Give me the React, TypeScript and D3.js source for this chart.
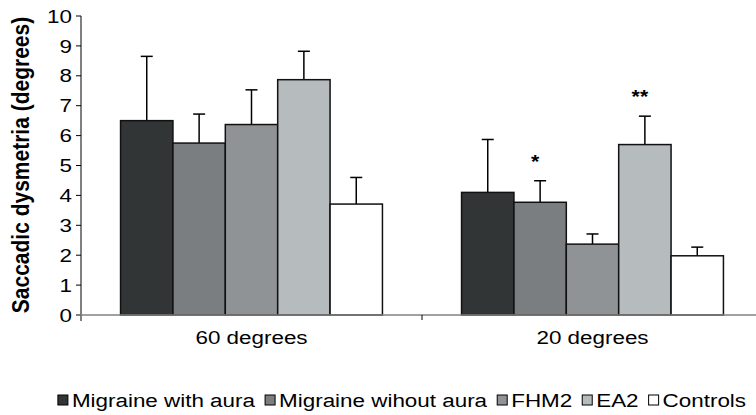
import React from 'react';
import * as d3 from 'd3';

const categories = ['60 degrees', '20 degrees'];
const seriesNames = ['Migraine with aura', 'Migraine wihout aura', 'FHM2', 'EA2', 'Controls'];
const seriesColors = ['#323536', '#7b7e80', '#8f9396', '#b6bbbe', '#ffffff'];
// means per series, one value per category
const means = [
  [6.5, 4.1],
  [5.75, 3.77],
  [6.37, 2.37],
  [7.87, 5.7],
  [3.71, 1.98],
];
// upper end of each error bar
const errTops = [
  [8.65, 5.87],
  [6.72, 4.49],
  [7.53, 2.71],
  [8.82, 6.65],
  [4.6, 2.27],
];
// significance marks: [series, category, label]
const marks: [number, number, string][] = [
  [1, 1, '*'],
  [3, 1, '**'],
];
const yTicks = d3.range(0, 11);

const W = 756;
const H = 415;
const FONT = '"Liberation Sans", Arial, sans-serif';
const FS = 19;
const SX = 1.18; // the figure text is stretched horizontally

function textWidth(s: string, font: string) {
  const c = document.createElement('canvas').getContext('2d');
  if (!c) return s.length * 9;
  c.font = font;
  return c.measureText(s).width;
}

function SText({ x, y, anchor = 'start', children, size = FS, weight = 'normal' }: any) {
  return (
    <g transform={`translate(${x}, ${y}) scale(${SX}, 1)`}>
      <text textAnchor={anchor} fontSize={size} fontWeight={weight} dy="0.35em">
        {children}
      </text>
    </g>
  );
}

export default function App() {
  const y = d3.scaleLinear().domain([0, 10]).range([315, 16]);
  const x0 = d3.scaleBand().domain(categories).range([81, 763]);
  const bw = x0.bandwidth();
  const inset = bw * 0.116;
  const x1 = d3
    .scaleBand()
    .domain(seriesNames)
    .range([inset, bw - inset]);

  // legend layout
  const legendFont = `${FS}px ${FONT}`;
  const sq = 10;
  const pad = 4;
  const items = seriesNames.map((n) => ({ n, w: sq + pad + SX * textWidth(n, legendFont) }));
  const gap = 10;
  const total = d3.sum(items, (d) => d.w) + gap * (items.length - 1);
  let lx = (57 + 747) / 2 - total / 2;
  const legendX = items.map((d) => {
    const p = lx;
    lx += d.w + gap;
    return p;
  });

  return (
    <svg width={W} height={H} style={{ position: 'absolute', left: 0, top: 0 }} fontFamily={FONT}>
      <rect width={W} height={H} fill="#fff" />
      {/* y axis */}
      <line x1={81} x2={81} y1={y(10)} y2={y(0) + 6} stroke="#000" strokeWidth={1} />
      {yTicks.map((t) => (
        <g key={t}>
          <line x1={76} x2={81} y1={y(t)} y2={y(t)} stroke="#000" />
          <SText x={72} y={y(t)} anchor="end">
            {t}
          </SText>
        </g>
      ))}
      <g transform={`translate(20, 165) scale(${SX}, 1) rotate(-90)`}>
        <text textAnchor="middle" fontSize={21} fontWeight="bold" dy="0.35em">
          Saccadic dysmetria (degrees)
        </text>
      </g>

      {/* bars */}
      {categories.map((c, ci) => (
        <g key={c} transform={`translate(${x0(c)}, 0)`}>
          {seriesNames.map((s, si) => {
            const bx = x1(s) as number;
            const cx = bx + x1.bandwidth() / 2;
            return (
              <g key={s}>
                <line x1={cx} x2={cx} y1={y(means[si][ci])} y2={y(errTops[si][ci])} stroke="#000" strokeWidth={1.5} />
                <line x1={cx - 6} x2={cx + 6} y1={y(errTops[si][ci])} y2={y(errTops[si][ci])} stroke="#000" strokeWidth={1.5} />
                <rect
                  x={bx}
                  y={y(means[si][ci])}
                  width={x1.bandwidth()}
                  height={y(0) - y(means[si][ci])}
                  fill={seriesColors[si]}
                  stroke="#111"
                  strokeWidth={1.5}
                />
              </g>
            );
          })}
        </g>
      ))}

      {/* x axis */}
      <line x1={76} x2={W} y1={y(0)} y2={y(0)} stroke="#808080" strokeWidth={1.5} />
      {categories.slice(1).map((c) => (
        <line key={c} x1={x0(c)} x2={x0(c)} y1={y(0)} y2={y(0) + 5} stroke="#000" />
      ))}
      {categories.map((c) => (
        <SText key={c} x={(x0(c) as number) + bw / 2} y={337} anchor="middle">
          {c}
        </SText>
      ))}

      {marks.map(([si, ci, label]) => {
        const cx = (x0(categories[ci]) as number) + (x1(seriesNames[si]) as number) + x1.bandwidth() / 2;
        return (
          <SText key={label} x={cx - 5} y={y(errTops[si][ci]) - 19} anchor="middle" size={18} weight="bold">
            {label}
          </SText>
        );
      })}

      {/* legend */}
      {seriesNames.map((n, i) => (
        <g key={n} transform={`translate(${legendX[i]}, 400)`}>
          <rect x={0} y={-sq / 2} width={sq} height={sq} fill={seriesColors[i]} stroke="#000" strokeWidth={1} />
          <SText x={sq + pad} y={0}>
            {n}
          </SText>
        </g>
      ))}
    </svg>
  );
}
